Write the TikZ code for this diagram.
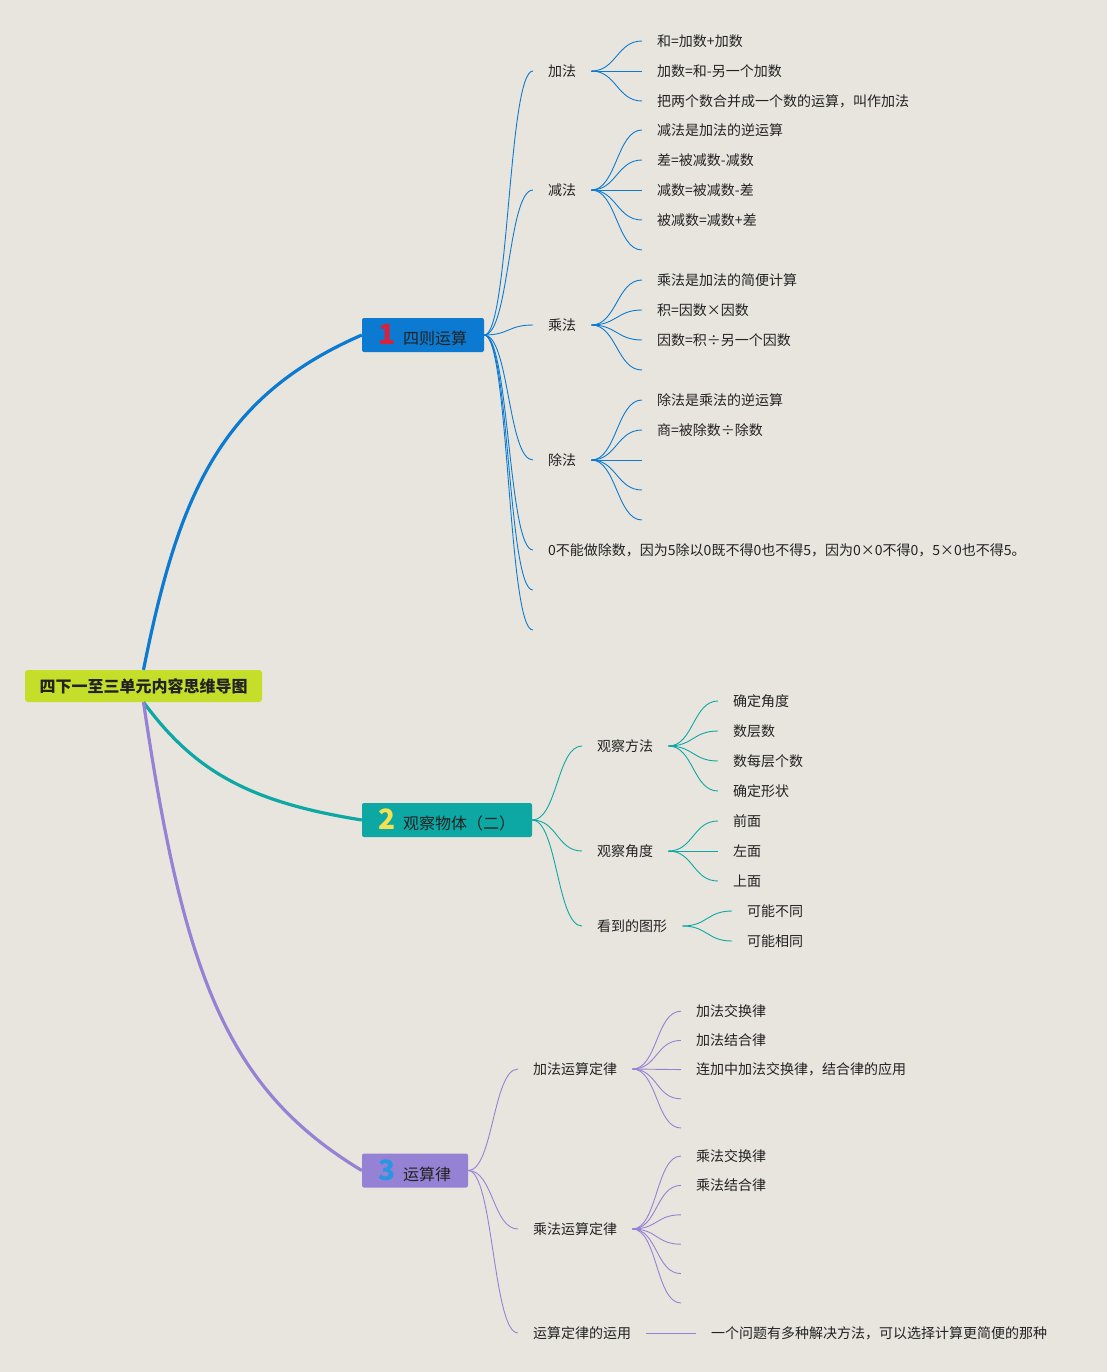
\documentclass[tikz,border=0pt]{standalone}
\usepackage{fontspec}
\setmainfont{Noto Sans CJK SC}
\usetikzlibrary{positioning}

\definecolor{bg}{RGB}{232,229,222}
\definecolor{lime}{RGB}{196,222,42}
\definecolor{bblue}{RGB}{12,122,208}
\definecolor{bteal}{RGB}{14,168,164}
\definecolor{bpurple}{RGB}{150,130,212}
\definecolor{numred}{RGB}{214,34,60}
\definecolor{numyel}{RGB}{245,225,80}
\definecolor{numsky}{RGB}{40,150,225}
\definecolor{ink}{RGB}{34,34,34}

\newcommand\topicnum[2]{\textcolor{#1}{\fontsize{28}{28}\selectfont\bfseries #2}\hspace{7pt}}

\begin{document}
\begin{tikzpicture}[x=1pt,y=-1pt,
  root/.style={fill=lime,rounded corners=3pt,minimum width=237pt,minimum height=32pt,text=ink,font=\fontsize{16}{18}\selectfont\bfseries},
  main/.style={rounded corners=2pt,minimum height=34pt,inner sep=0pt,text=ink,font=\fontsize{16}{18}\selectfont},
  topic/.style={anchor=west,inner xsep=15pt,inner ysep=2pt,text=ink,font=\fontsize{14}{16}\selectfont},
  stub/.style={inner sep=0pt,minimum size=0pt},
  trunk/.style={line width=3.2pt},
  twig/.style={line width=0.9pt}]
  \path[use as bounding box,fill=bg] (0,0) rectangle (1107,1372);

  % centre and the three main topics
  \node[root] (root) at (143.5,686) {四下一至三单元内容思维导图};
  \node[main,fill=bblue,minimum width=122pt] (calc) at (423,335) {\topicnum{numred}{1}四则运算};
  \node[main,fill=bteal,minimum width=170pt] (view) at (447,820) {\topicnum{numyel}{2}观察物体（二）};
  \node[main,fill=bpurple,minimum width=106pt] (law) at (415,1170.5) {\topicnum{numsky}{3}运算律};
  \draw[trunk,bblue] (root.north) .. controls +(35,-175) and +(-142,62) .. (calc.west);
  \draw[trunk,bteal] (root.south) .. controls +(51,69) and +(-113,-18) .. (view.west);
  \draw[trunk,bpurple] (root.south) .. controls +(40,271) and +(-136,-82) .. (law.west);

  % 1 四则运算
  \node[topic] (add) at (533,71) {加法};
  \node[topic] (sub) at (533,190) {减法};
  \node[topic] (mul) at (533,325) {乘法};
  \node[topic] (div) at (533,460) {除法};
  \node[topic] (zero) at (533,550) {0不能做除数，因为5除以0既不得0也不得5，因为0×0不得0，5×0也不得5。};
  \node[stub] (calc6) at (533,590) {};
  \node[stub] (calc7) at (533,630) {};
  \foreach \n in {add,sub,mul,div,zero,calc6,calc7}
    \draw[twig,bblue] (calc.east) .. controls +(25,0) and +(-25,0) .. (\n.west);
  \foreach \t [count=\i] in {和=加数+加数,加数=和-另一个加数,把两个数合并成一个数的运算，叫作加法}{
    \node[topic] (add\i) at (642,{11+30*\i}) {\t};
    \draw[twig,bblue] (add.east) .. controls +(25,0) and +(-25,0) .. (add\i.west);}
  \foreach \t [count=\i] in {减法是加法的逆运算,差=被减数-减数,减数=被减数-差,被减数=减数+差,{}}{
    \node[topic] (sub\i) at (642,{100+30*\i}) {\t};
    \draw[twig,bblue] (sub.east) .. controls +(25,0) and +(-25,0) .. (sub\i.west);}
  \foreach \t [count=\i] in {乘法是加法的简便计算,积=因数×因数,因数=积÷另一个因数,{}}{
    \node[topic] (mul\i) at (642,{250+30*\i}) {\t};
    \draw[twig,bblue] (mul.east) .. controls +(25,0) and +(-25,0) .. (mul\i.west);}
  \foreach \t [count=\i] in {除法是乘法的逆运算,商=被除数÷除数,{},{},{}}{
    \node[topic] (div\i) at (642,{370+30*\i}) {\t};
    \draw[twig,bblue] (div.east) .. controls +(25,0) and +(-25,0) .. (div\i.west);}

  % 2 观察物体
  \node[topic] (method) at (582,746) {观察方法};
  \node[topic] (angle) at (582,851) {观察角度};
  \node[topic] (shape) at (582,926) {看到的图形};
  \foreach \n in {method,angle,shape}
    \draw[twig,bteal] (view.east) .. controls +(25,0) and +(-25,0) .. (\n.west);
  \foreach \t [count=\i] in {确定角度,数层数,数每层个数,确定形状}{
    \node[topic] (method\i) at (718,{671+30*\i}) {\t};
    \draw[twig,bteal] (method.east) .. controls +(25,0) and +(-25,0) .. (method\i.west);}
  \foreach \t [count=\i] in {前面,左面,上面}{
    \node[topic] (angle\i) at (718,{791+30*\i}) {\t};
    \draw[twig,bteal] (angle.east) .. controls +(25,0) and +(-25,0) .. (angle\i.west);}
  \foreach \t [count=\i] in {可能不同,可能相同}{
    \node[topic] (shape\i) at (732,{881+30*\i}) {\t};
    \draw[twig,bteal] (shape.east) .. controls +(25,0) and +(-25,0) .. (shape\i.west);}

  % 3 运算律
  \node[topic] (addlaw) at (518,1069) {加法运算定律};
  \node[topic] (mullaw) at (518,1229) {乘法运算定律};
  \node[topic] (uselaw) at (518,1333) {运算定律的运用};
  \foreach \n in {addlaw,mullaw,uselaw}
    \draw[twig,bpurple] (law.east) .. controls +(25,0) and +(-25,0) .. (\n.west);
  \foreach \t [count=\i] in {加法交换律,加法结合律,连加中加法交换律，结合律的应用,{},{}}{
    \node[topic] (addlaw\i) at (681,{982+29.2*\i}) {\t};
    \draw[twig,bpurple] (addlaw.east) .. controls +(25,0) and +(-25,0) .. (addlaw\i.west);}
  \foreach \t [count=\i] in {乘法交换律,乘法结合律,{},{},{},{}}{
    \node[topic] (mullaw\i) at (681,{1126.6+29.4*\i}) {\t};
    \draw[twig,bpurple] (mullaw.east) .. controls +(25,0) and +(-25,0) .. (mullaw\i.west);}
  \node[topic] (uselaw1) at (696,1333) {一个问题有多种解决方法，可以选择计算更简便的那种};
  \draw[twig,bpurple] (uselaw.east) -- (uselaw1.west);
\end{tikzpicture}
\end{document}
